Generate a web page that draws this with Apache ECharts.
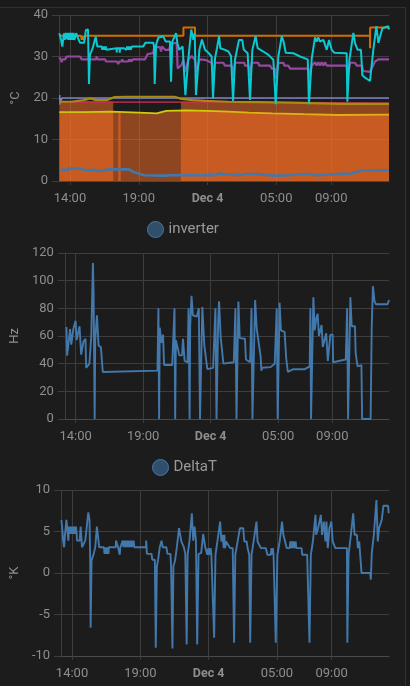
<!DOCTYPE html>
<html>
<head>
<meta charset="utf-8">
<style>
html, body { margin: 0; padding: 0; background: #1a1a1a; overflow: hidden; }
#card { position: absolute; left: -2px; top: 7px; width: 406px; height: 690px; border: 1px solid #303030; background: #1c1c1c; }
#main { position: absolute; left: 0; top: 0; width: 410px; height: 686px; }
</style>
</head>
<body>
<div id="card"></div>
<div id="main"></div>
<script src="https://cdn.jsdelivr.net/npm/echarts@6/dist/echarts.min.js"></script>
<script>
var myChart = echarts.init(document.getElementById('main'));

// x values are hours counted from Dec 3 00:00
var tickHours = [14, 19, 24, 29, 33];
var tickLabels = ['14:00', '19:00', '{b|Dec 4}', '05:00', '09:00'];

var tempHeatingOn = [[13.25,0],[13.27,19.1],[14.5,19.1],[15.5,19.2],[17.14,19.1],[17.15,0],[17.5,0],[17.51,16.6],[17.68,16.6],[17.69,0],[22.06,0],[22.07,19.1],[24,19],[28,18.9],[31,18.8],[37.2,18.7]];
var tempBase = [[13.22,16.6],[15,16.6],[17,16.7],[19.5,16.4],[20.3,16.3],[21,16.9],[22.4,17],[24,16.9],[25.5,16.7],[27,16.5],[28.7,16.3],[31,16.1],[33.5,15.9],[37.2,16]];
var tempOrange = [[13.3,35],[13.9,35],[13.95,34],[14,35],[14.05,34],[14.1,35],[14.15,34],[14.2,35],[14.8,35],[14.85,34],[14.9,35],[14.95,34],[15,35],[15.05,34],[15.1,35],[22.25,35],[22.25,37],[23.09,37],[23.09,35],[35.82,35],[35.82,32],[35.83,37],[37.2,37]];
var tempCyan = [[13.22,35.6],[13.35,34],[13.44,32.4],[13.56,35.6],[13.62,34],[13.68,35.7],[13.75,34.2],[13.8,35.7],[13.88,34],[13.95,35.7],[14.02,34],[14.1,35.7],[14.18,34],[14.25,35.7],[14.32,34],[14.44,35.6],[14.73,33.3],[15.02,33.3],[15.16,36.4],[15.31,36.5],[15.38,23.4],[15.45,30.4],[15.65,32],[15.87,34.8],[15.99,32.4],[16.3,32.4],[16.35,31.6],[16.4,32.4],[16.45,31.6],[16.5,32.4],[16.55,31.6],[16.6,32.4],[16.65,31.6],[16.7,32],[17.38,32],[17.4,31],[17.42,32],[17.6,32],[17.62,30.9],[17.64,32],[17.93,32],[18,31.6],[18.05,32.4],[18.1,31.6],[18.15,32.4],[18.2,31.6],[18.25,32.4],[18.3,31.6],[18.35,32.4],[18.4,31.6],[18.5,32.4],[19.33,32.4],[19.48,33.3],[20.06,33.3],[20.11,32.4],[20.16,23.4],[20.26,32.8],[20.43,34.6],[20.79,34.8],[20.96,33.6],[21.27,33.6],[21.35,23.9],[21.44,33.6],[21.71,35.6],[21.81,33.2],[21.95,31.6],[22.19,32.4],[22.39,20.7],[22.6,29.2],[22.82,36.5],[22.97,34],[23.07,35.6],[23.16,20.7],[23.41,31.6],[23.6,34.1],[23.82,31.6],[24.06,30.9],[24.3,30],[24.4,19.9],[24.55,29.6],[24.69,32],[24.84,34.9],[24.93,32],[25.27,31.6],[25.52,31.2],[25.71,30.1],[25.86,19.3],[26,29.2],[26.29,34],[26.53,34],[26.63,31.7],[26.92,30.8],[27.09,19.5],[27.26,31.6],[27.5,34.9],[27.65,32],[28.06,31.2],[28.43,30.4],[28.79,29.2],[28.96,18.5],[29.15,30],[29.4,34.9],[29.54,33.5],[29.69,30.9],[30.24,30.8],[30.73,30],[31.29,29.3],[31.38,18.5],[31.58,29.5],[31.82,34.6],[31.94,33.6],[32.06,34.6],[32.18,33.6],[32.3,33.6],[32.43,34],[32.67,31.6],[32.84,34],[33.03,31.6],[33.23,30.9],[34.12,30.8],[34.17,19.1],[34.32,29.2],[34.61,35.7],[34.73,33.2],[34.92,31.6],[35.16,31.6],[35.26,25.5],[35.46,24.9],[35.82,24.1],[36.06,31.6],[36.28,37.3],[36.43,33.3],[36.72,36.8],[37.15,37.3],[37.2,36.5]];
var tempPurple = [[13.22,29.8],[13.35,29.2],[13.39,28.6],[13.44,29.3],[13.64,29.3],[13.76,30],[14.73,30],[14.85,29.3],[15.89,29.3],[15.94,30],[16.01,29.3],[16.55,29.3],[16.62,28.8],[17.39,28.8],[17.51,28.2],[17.59,28.8],[17.76,28.8],[17.8,29.3],[17.84,28.8],[18.24,28.8],[18.3,29.3],[18.36,28.8],[18.42,29.3],[18.48,28.8],[18.54,29.3],[19.45,29.3],[19.65,30.6],[20.06,30.8],[20.13,32.4],[20.55,32.2],[20.62,31.2],[20.69,32.4],[20.91,31.6],[21.22,31.6],[21.32,33.2],[21.76,33.2],[21.83,27.1],[22.12,28],[22.24,29.2],[22.39,26.3],[22.6,29.2],[22.85,30.1],[23.09,29.2],[23.21,26.3],[23.41,29.3],[23.82,29.2],[24.3,28.5],[24.43,25.5],[24.55,28.5],[25.15,28.5],[25.27,27.8],[25.76,27.8],[25.88,25.3],[26,28.5],[26.68,28.5],[26.73,27.8],[26.97,27.8],[27.09,25.3],[27.21,28.5],[27.7,28.5],[27.75,27.8],[28.55,27.8],[28.67,27.1],[28.91,27.1],[28.96,24.7],[29.15,28.4],[29.52,28.5],[29.59,27.8],[29.88,27.8],[30,27.1],[30.24,27.1],[31.33,27.1],[31.43,25],[31.58,27.8],[31.82,28.6],[31.94,27.8],[32.06,28.6],[32.18,27.8],[32.3,28.6],[32.43,27.8],[32.55,28.6],[32.67,27.8],[34.12,27.8],[34.19,25],[34.37,28.5],[34.73,28.5],[34.85,27.8],[35.21,27.8],[35.33,26.5],[35.82,26.3],[35.94,27.1],[36.18,28.8],[36.43,29.3],[37.2,29.3]];
var tempLavender = [[13.25,20.7],[13.27,18.4],[13.3,20],[13.36,19.4],[13.42,20],[37.2,20]];
var tempRed = [[13.25,19],[25,19],[30,18.9],[37.2,18.8]];
var tempOlive = [[13.25,19.1],[14.1,19.1],[15,19.5],[15.5,19.9],[15.9,19.5],[16.7,19.5],[17.2,20.2],[18.1,20.3],[21.6,20.3],[22.1,19.8],[22.9,19.5],[23.82,19.3],[25.5,19.1],[27.7,19],[30.1,18.9],[33.5,18.6],[37.2,18.6]];
var tempBlue = [[13.25,2.5],[13.5,2.7],[13.55,2.3],[13.7,2.7],[13.75,2.3],[13.85,2.6],[14,3],[14.7,3],[14.75,2.6],[15,2.7],[15.05,2.4],[15.5,2.6],[15.6,2.4],[15.65,2.8],[15.9,2.5],[16,2.8],[16.1,2.4],[16.5,2.6],[16.9,2.8],[18.1,2.8],[18.2,2.4],[18.3,2.8],[18.6,2.2],[19.4,1.4],[20.5,1.3],[21,1.3],[21.05,1.7],[21.1,1.3],[21.3,1.4],[22.6,1.4],[22.65,1.8],[22.7,1.4],[23.82,1.4],[24.1,1.4],[24.15,1.9],[24.2,1.4],[24.6,1.4],[24.65,1.8],[24.8,1.8],[24.9,1.4],[26.2,1.4],[26.25,1.9],[26.3,1.4],[26.8,1.7],[27.6,1.7],[28.9,1.3],[29,1.3],[29.9,1.4],[30.9,1.7],[31.3,1.7],[32,1.4],[33.5,1.7],[34.5,1.8],[34.7,2.1],[35,2.3],[35.2,2.5],[36,2.5],[37.2,2.65]];

var inverter = [[13.32,66.5],[13.37,45.8],[13.59,65],[13.68,53.7],[13.83,65],[14,71],[14.07,57],[14.29,67],[14.41,46.5],[14.58,56],[14.73,58],[14.78,37],[15.02,40],[15.16,60],[15.28,112.8],[15.33,91],[15.41,0],[15.45,57],[15.58,75],[15.7,53],[15.87,52],[16.01,34],[20.06,35],[20.13,80],[20.18,0],[20.23,66],[20.35,55],[20.47,61],[20.55,39],[21.15,39],[21.32,80],[21.37,0],[21.42,57],[21.56,58],[21.68,46],[21.88,46],[21.95,58],[22.07,42],[22.29,41],[22.36,80],[22.44,0],[22.48,67],[22.58,89],[22.68,75],[22.97,74],[23.12,80],[23.21,0],[23.38,81],[23.53,53],[23.65,53],[23.75,36],[24.18,37],[24.35,80],[24.43,0],[24.55,70],[24.62,85],[24.74,59],[24.86,58.5],[24.94,40],[25.71,41],[25.83,80],[25.91,0],[26.05,85],[26.15,58.5],[26.54,58],[26.61,43],[26.92,41],[27.02,80],[27.09,0],[27.29,86],[27.41,65],[27.55,64],[27.7,45],[27.75,35],[27.82,37],[28.43,37.5],[28.74,40],[28.89,80],[28.96,0],[29.1,84],[29.2,64],[29.47,63],[29.59,44],[29.71,34],[30.12,36],[30.97,36],[31.33,38],[31.38,80],[31.43,0],[31.6,88],[31.7,64],[31.82,73],[31.92,76],[32.01,60],[32.21,68],[32.3,52],[32.55,62],[32.67,42],[32.86,61],[33.03,61],[33.06,41],[33.15,42],[34,43],[34.1,80],[34.17,0],[34.34,88],[34.44,67],[34.68,67],[34.73,48],[34.85,48],[34.87,38],[35.16,39],[35.21,0],[35.84,0],[35.92,66],[36.01,96],[36.13,85],[36.23,83],[37.1,83],[37.2,86]];

var deltaT = [[13.22,6.4],[13.27,5.6],[13.35,3.9],[13.42,3.1],[13.49,4.7],[13.59,6.4],[13.71,6.4],[13.73,3.9],[13.78,5.6],[13.83,4.7],[13.88,5.6],[13.93,4.7],[13.98,5.6],[14.02,4.7],[14.07,5.6],[14.12,4.7],[14.17,5.6],[14.22,4.7],[14.29,5.6],[14.34,4.7],[14.36,3.9],[14.56,3.9],[14.63,5.6],[14.73,3.1],[14.87,3.1],[14.97,3.9],[15.07,3.9],[15.19,7.3],[15.28,6.4],[15.33,1.6],[15.36,-6.6],[15.43,1.5],[15.58,2.3],[15.7,3.1],[15.82,5.6],[15.89,5.6],[15.99,3.1],[16.33,3.1],[16.38,2.3],[16.42,3.1],[16.47,2.3],[16.52,3.1],[16.57,2.3],[16.62,3.1],[16.67,2.3],[16.69,3.1],[17.2,3.1],[17.22,3.9],[17.35,3.9],[17.37,3.1],[17.47,3.1],[17.49,2.2],[17.54,3.1],[17.68,3.1],[17.71,3.9],[17.76,3.1],[17.81,3.9],[17.86,3.1],[17.91,3.9],[17.96,3.1],[18.01,3.9],[18.06,3.1],[18.11,3.9],[18.16,3.1],[18.21,3.9],[18.26,3.1],[18.31,3.9],[18.36,3.1],[18.41,3.9],[18.46,3.1],[18.51,3.9],[18.56,3.1],[19.41,3.1],[19.43,3.9],[19.48,2.3],[19.82,2.3],[19.87,1.6],[20.06,1.6],[20.13,-9],[20.21,0.8],[20.3,1.6],[20.42,3.1],[20.55,3.9],[20.64,3.1],[20.91,3.1],[20.98,2.3],[21.2,2.3],[21.25,0.8],[21.35,-9.1],[21.42,0.8],[21.54,1.5],[21.68,3.2],[21.83,5.4],[21.95,5.4],[22,3.8],[22.19,3.1],[22.29,2.3],[22.39,-8.6],[22.46,2.2],[22.6,3.9],[22.77,7.2],[22.87,3.9],[22.97,5.6],[23.07,3.9],[23.16,-8.6],[23.26,2.3],[23.45,2.4],[23.6,4.7],[23.75,3.1],[23.82,3],[23.9,2.2],[23.98,3],[24.06,2.2],[24.14,3],[24.2,2.2],[24.3,2.2],[24.4,-7.8],[24.5,2.2],[24.64,3.8],[24.84,6.2],[24.93,3.8],[25.03,4.6],[25.1,3],[25.15,4.6],[25.2,3],[25.27,3.8],[25.57,3],[25.76,3],[25.86,-8.4],[25.95,2.2],[26.12,3.8],[26.29,5.4],[26.53,5.4],[26.61,3.8],[26.78,3.8],[26.85,3],[26.97,2.2],[27.04,-8.4],[27.14,2.2],[27.29,3.8],[27.5,6.2],[27.58,3.8],[27.7,3.8],[27.82,3],[28.18,3],[28.3,2.2],[28.55,2.2],[28.6,3],[28.65,2.2],[28.7,3],[28.75,2.2],[28.79,2.2],[28.91,-8.4],[29.03,2.2],[29.2,3.8],[29.37,6.2],[29.47,4.6],[29.59,4.6],[29.71,3],[29.93,3],[29.98,3.8],[30.03,3],[30.08,3.8],[30.13,3],[30.18,3.8],[30.23,3],[30.28,3.8],[30.33,3],[30.37,3.8],[30.41,3],[30.8,3],[30.85,2.2],[31.21,2.2],[31.38,-8.4],[31.48,2.2],[31.63,3.8],[31.82,7],[31.87,4.6],[32.01,5.4],[32.21,7],[32.3,4.6],[32.43,6.2],[32.55,3.8],[32.62,6.2],[32.72,3],[32.84,5.4],[32.98,6.2],[33.08,3.8],[33.27,3],[34.12,3],[34.15,-8.4],[34.24,2.2],[34.41,4.6],[34.58,7.2],[34.68,4.6],[34.85,4.6],[34.92,3],[35.02,3.8],[35.16,3.8],[35.19,0],[35.82,0],[35.87,-0.8],[35.94,2.4],[36.09,4.6],[36.28,8.8],[36.38,3.8],[36.47,5.4],[36.59,5.4],[36.67,6.4],[36.79,8.1],[37.13,8.1],[37.18,7.2]];

var textColor = '#8e8e8e';
var gridColor = '#3d3d3d';
var blue = '#4378ab';

function xAxisFor(i) {
    return {
        type: 'value',
        gridIndex: i,
        min: 13.2,
        max: 37.2,
        axisLine: {onZero: false, lineStyle: {color: '#4a4a4a'}},
        axisTick: {length: 4, customValues: tickHours, lineStyle: {color: gridColor}},
        splitLine: {show: true, lineStyle: {color: gridColor}},
        axisLabel: {
            customValues: tickHours,
            color: textColor,
            fontFamily: 'Roboto',
            fontSize: 13,
            margin: 11,
            formatter: function (val) {
                return tickLabels[tickHours.indexOf(val)];
            },
            rich: {b: {fontFamily: 'Roboto', fontSize: 12.5, fontWeight: 'bold', color: '#8e8e8e'}}
        }
    };
}

function yAxisFor(i, name, min, max, interval, gap) {
    return {
        type: 'value',
        gridIndex: i,
        name: name,
        nameLocation: 'middle',
        nameGap: gap,
        nameTextStyle: {color: textColor, fontFamily: 'Roboto', fontSize: 13},
        min: min,
        max: max,
        interval: interval,
        axisLine: {show: true, onZero: false, lineStyle: {color: gridColor}},
        axisTick: {show: true, length: 7, lineStyle: {color: gridColor}},
        splitLine: {lineStyle: {color: gridColor}},
        axisLabel: {color: textColor, fontFamily: 'Roboto', fontSize: 13, margin: 11}
    };
}

function tempLine(name, data, color, width) {
    return {
        name: name,
        type: 'line',
        xAxisIndex: 0,
        yAxisIndex: 0,
        data: data,
        symbol: 'none',
        lineStyle: {color: color, width: width}
    };
}

function tempArea(name, data) {
    return {
        name: name,
        type: 'line',
        xAxisIndex: 0,
        yAxisIndex: 0,
        data: data,
        symbol: 'none',
        lineStyle: {width: 0},
        areaStyle: {color: 'rgba(255,111,35,0.5)', opacity: 1}
    };
}

function legendFor(name, left, top) {
    return {
        data: [name],
        left: left,
        top: top,
        icon: 'circle',
        itemWidth: 16,
        itemHeight: 16,
        itemGap: 7,
        itemStyle: {color: 'rgba(67,120,171,0.55)', borderColor: '#4378ab', borderWidth: 1},
        textStyle: {color: '#9a9a9a', fontFamily: 'Roboto', fontSize: 15}
    };
}

option = {
    backgroundColor: 'transparent',
    animation: false,
    legend: [legendFor('inverter', 142, 216), legendFor('DeltaT', 147, 454)],
    grid: [
        {left: 59, width: 330, top: 15, height: 166},
        {left: 59, width: 330, top: 253, height: 166},
        {left: 59, width: 330, top: 490, height: 166}
    ],
    xAxis: [xAxisFor(0), xAxisFor(1), xAxisFor(2)],
    yAxis: [
        yAxisFor(0, '°C', 0, 40, 10, 35),
        yAxisFor(1, 'Hz', 0, 120, 20, 41),
        yAxisFor(2, '°K', -10, 10, 5, 40)
    ],
    series: [
        tempArea('base', tempBase),
        tempArea('heating', tempHeatingOn),
        tempLine('blue', tempBlue, blue, 2.6),
        tempLine('lavender', tempLavender, '#7f7fc8', 1.5),
        tempLine('red', tempRed, '#d0305c', 1.2),
        tempLine('olive', tempOlive, '#a98a0c', 2.2),
        {
            name: 'yellow',
            type: 'line',
            xAxisIndex: 0,
            yAxisIndex: 0,
            data: tempBase,
            symbol: 'none',
            lineStyle: {
                width: 1.8,
                color: new echarts.graphic.LinearGradient(0, 0, 1, 0, [
                    {offset: 0, color: '#cfc20c'},
                    {offset: 0.4, color: '#cfd00c'},
                    {offset: 0.55, color: '#dcb40e'},
                    {offset: 1, color: '#e3ae12'}
                ])
            }
        },
        tempLine('orange', tempOrange, '#d46d00', 2),
        tempLine('purple', tempPurple, '#96489f', 2.2),
        tempLine('cyan', tempCyan, '#0cc8d0', 2),
        {
            name: 'inverter',
            type: 'line',
            xAxisIndex: 1,
            yAxisIndex: 1,
            data: inverter,
            symbol: 'none',
            itemStyle: {color: blue},
            lineStyle: {color: blue, width: 1.9}
        },
        {
            name: 'DeltaT',
            type: 'line',
            xAxisIndex: 2,
            yAxisIndex: 2,
            data: deltaT,
            symbol: 'none',
            itemStyle: {color: blue},
            lineStyle: {color: blue, width: 1.9}
        }
    ]
};
myChart.setOption(option, true);
</script>
</body>
</html>
